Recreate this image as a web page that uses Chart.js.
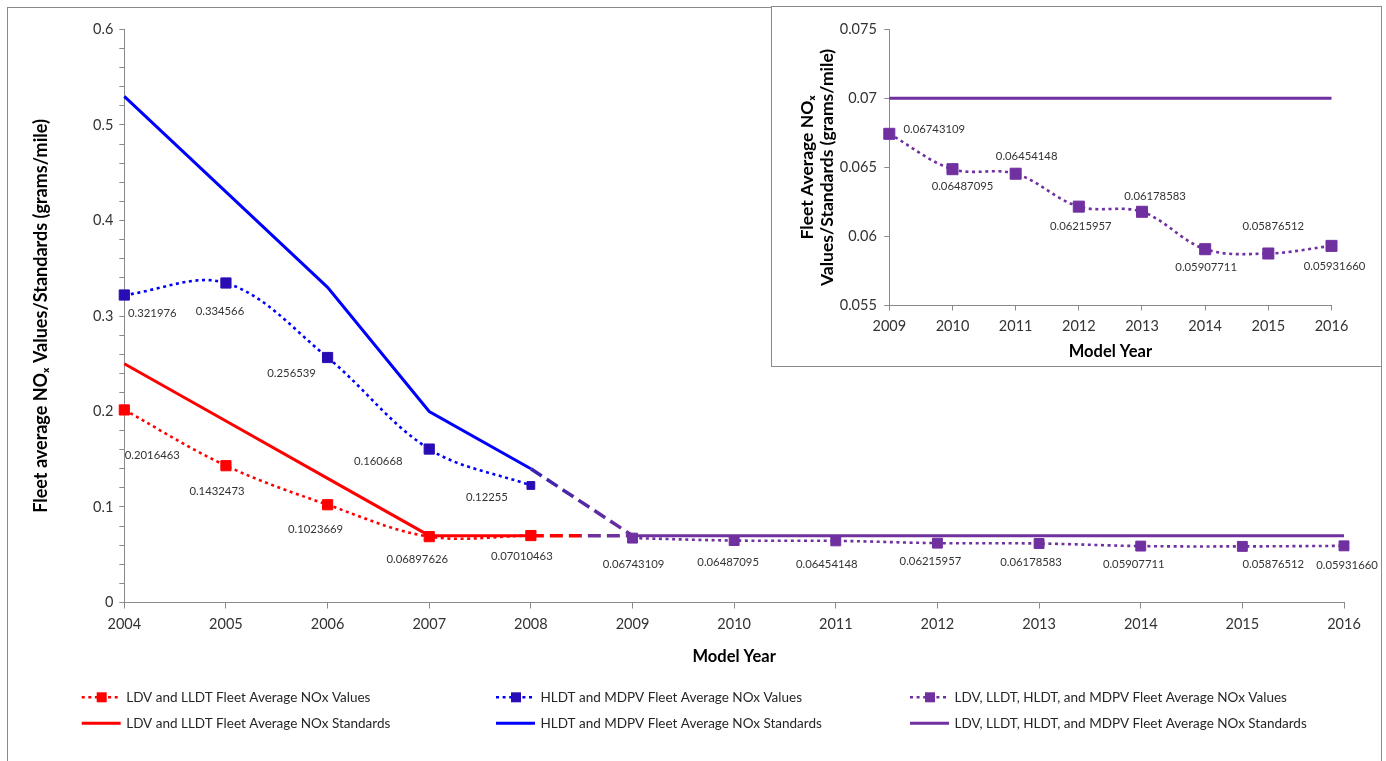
<!DOCTYPE html>
<html>
<head>
<meta charset="utf-8">
<script src="https://cdn.jsdelivr.net/npm/chart.js@4.4.1/dist/chart.umd.min.js"></script>
<style>
html,body{margin:0;padding:0;background:#fff;overflow:hidden;width:1386px;height:761px;}
#frame{position:absolute;left:7px;top:7px;width:1375px;height:780px;border:1px solid #8a8a8a;box-sizing:border-box;}
#main{position:absolute;left:0;top:0;}
#insetBox{position:absolute;left:771px;top:6px;width:611px;height:361px;border:1px solid #8a8a8a;box-sizing:border-box;background:#fff;}
#inset{position:absolute;left:0;top:0;}
</style>
</head>
<body>
<div id="frame"></div>
<canvas id="main" width="1386" height="761"></canvas>
<div id="insetBox"><canvas id="inset" width="609" height="359"></canvas></div>
<script>
// ---------------- data ----------------
const yearLabels = ['2004','2005','2006','2007','2008','2009','2010','2011','2012','2013','2014','2015','2016'];
const insetYearLabels = ['2009','2010','2011','2012','2013','2014','2015','2016'];

// 2004-2008
const ldvValues = [0.2016463, 0.1432473, 0.1023669, 0.06897626, 0.07010463];
const hldtValues = [0.321976, 0.334566, 0.256539, 0.160668, 0.12255];
const ldvStandards = [0.25, 0.19, 0.13, 0.07, 0.07];
const hldtStandards = [0.53, 0.43, 0.33, 0.20, 0.14];
// 2009-2016
const allValues = [0.06743109, 0.06487095, 0.06454148, 0.06215957, 0.06178583, 0.05907711, 0.05876512, 0.05931660];
const allStandards = [0.07, 0.07, 0.07, 0.07, 0.07, 0.07, 0.07, 0.07];

const mainYTicks = [0, 0.1, 0.2, 0.3, 0.4, 0.5, 0.6];
const insetYTicks = [0.055, 0.06, 0.065, 0.07, 0.075];

const seriesNames = [
  'LDV and LLDT Fleet Average NOx Values',
  'HLDT and MDPV Fleet Average NOx Values',
  'LDV, LLDT, HLDT, and MDPV Fleet Average NOx Values',
  'LDV and LLDT Fleet Average NOx Standards',
  'HLDT and MDPV Fleet Average NOx Standards',
  'LDV, LLDT, HLDT, and MDPV Fleet Average NOx Standards'
];

// label placement (offsets from the point, in px)
const ldvLabelOffsets = [[28,45],[-9,26],[-12,25],[-12,23],[-9,21]];
const hldtLabelOffsets = [[28,18],[-6,28],[-36,16],[-51,12],[-44,12]];
const allLabelOffsets = [[1,26],[-6,22],[-9,23],[-7,18],[-8,19],[-7,18],[31,18],[3,19]];
const insetLabelOffsets = [[45,-4],[10,17],[11,-17],[2,20],[13,-15],[1,18],[5,-27],[3,20]];

// ---------------- styles ----------------
const FONT = 'Lato, "Open Sans", "DejaVu Sans", sans-serif';
const RED = '#FF0000', BLUE = '#0000FF', INDIGO = '#2A0CB4', PURPLE = '#7030A0', AXIS = '#8a8a8a';
Chart.defaults.font.family = FONT;
Chart.defaults.color = '#333';

const N = yearLabels.length;
function place(arr, start) {
  const out = new Array(N).fill(null);
  arr.forEach((v, i) => { out[start + i] = v; });
  return out;
}
const ldvStdData = place(ldvStandards, 0); ldvStdData[5] = allStandards[0];
const hldtStdData = place(hldtStandards, 0); hldtStdData[5] = allStandards[0];

function connector(fromColor, sharp) {
  return {
    borderDash: c => c.p0DataIndex === 4 ? [13, 6] : undefined,
    borderWidth: c => c.p0DataIndex === 4 ? 3.5 : undefined,
    borderColor: c => {
      if (c.p0DataIndex !== 4) return undefined;
      const g = c.chart.ctx.createLinearGradient(c.p0.x, 0, c.p1.x, 0);
      if (sharp) { g.addColorStop(0, fromColor); g.addColorStop(0.46, fromColor); g.addColorStop(0.54, PURPLE); g.addColorStop(1, PURPLE); }
      else { g.addColorStop(0, '#3A22B0'); g.addColorStop(1, PURPLE); }
      return g;
    }
  };
}

const fmt7 = v => v.toPrecision(7);
const fmtS = v => String(v);

function valuesSet(label, data, line, marker, radius, offsets, fmt) {
  return {
    label, data, kind: 'values',
    borderColor: line, backgroundColor: marker, borderWidth: 2.6, borderDash: [3, 3.6],
    tension: 0.35, pointStyle: 'rect', pointRadius: radius, pointBorderWidth: 1,
    pointBackgroundColor: marker, pointBorderColor: marker, clip: false,
    labelOffsets: offsets, fmt
  };
}
function stdSet(label, data, color, segment) {
  return {
    label, data, kind: 'std', borderColor: color, backgroundColor: color, borderWidth: 3,
    tension: 0, pointRadius: 0, clip: false, segment
  };
}

const labelPlugin = {
  id: 'pointLabels',
  afterDatasetsDraw(chart) {
    const ctx = chart.ctx;
    ctx.save();
    ctx.font = '11.3px ' + FONT;
    ctx.fillStyle = '#333';
    ctx.textAlign = 'center';
    ctx.textBaseline = 'middle';
    chart.data.datasets.forEach((ds, di) => {
      if (!ds.labelOffsets) return;
      const meta = chart.getDatasetMeta(di);
      let k = 0;
      ds.data.forEach((v, i) => {
        if (v == null) return;
        const off = ds.labelOffsets[k++];
        const p = meta.data[i];
        ctx.fillText(ds.fmt(v), p.x + off[0], p.y + off[1]);
      });
    });
    ctx.restore();
  }
};

const gridLegend = {
  id: 'gridLegend',
  afterDraw(chart) {
    const o = chart.options.plugins.gridLegend;
    if (!o) return;
    const ctx = chart.ctx;
    chart.data.datasets.forEach((ds, i) => {
      const x = o.colX[i % 3], y = o.rowY[Math.floor(i / 3)];
      ctx.save();
      ctx.strokeStyle = ds.borderColor;
      ctx.lineWidth = ds.kind === 'values' ? 2.6 : 3;
      ctx.setLineDash(ds.kind === 'values' ? [3, 3.6] : []);
      ctx.beginPath(); ctx.moveTo(x, y); ctx.lineTo(x + 39, y); ctx.stroke();
      ctx.setLineDash([]);
      if (ds.kind === 'values') {
        ctx.fillStyle = ds.pointBackgroundColor;
        ctx.fillRect(x + 15, y - 5, 10, 10);
      }
      ctx.fillStyle = '#262626';
      ctx.font = '13.5px ' + FONT;
      ctx.textBaseline = 'middle';
      ctx.textAlign = 'left';
      ctx.fillText(ds.label, x + 44.5, y);
      ctx.restore();
    });
  }
};

const hldtRadius = place([7.2, 7.2, 7.2, 7.2, 5.5], 0);

new Chart(document.getElementById('main'), {
  type: 'line',
  data: {
    labels: yearLabels,
    datasets: [
      valuesSet(seriesNames[0], place(ldvValues, 0), RED, RED, 7.2, ldvLabelOffsets, fmt7),
      valuesSet(seriesNames[1], place(hldtValues, 0), BLUE, INDIGO, hldtRadius, hldtLabelOffsets, fmtS),
      valuesSet(seriesNames[2], place(allValues, 5), PURPLE, PURPLE, 7.0, allLabelOffsets, fmt7),
      stdSet(seriesNames[3], ldvStdData, RED, connector(RED, true)),
      stdSet(seriesNames[4], hldtStdData, BLUE, connector(BLUE, false)),
      stdSet(seriesNames[5], place(allStandards, 5), PURPLE)
    ]
  },
  options: {
    responsive: false, animation: false, events: [],
    layout: { padding: { left: 0, right: 42, top: 29.5, bottom: 88.5 } },
    plugins: {
      legend: { display: false }, tooltip: { enabled: false },
      gridLegend: { colX: [81.7, 496, 910], rowY: [697.3, 723.3] }
    },
    scales: {
      x: {
        type: 'category', offset: false,
        grid: { display: true, drawOnChartArea: false, drawTicks: true, tickLength: 6, color: AXIS },
        border: { color: AXIS, width: 1 },
        ticks: { padding: 7, font: { size: 14.5 }, color: '#333', autoSkip: false, maxRotation: 0 },
        title: { display: true, text: 'Model Year', color: '#000', font: { size: 16.5, weight: 'bold', lineHeight: 1.3 }, padding: { top: 0, bottom: 5 } },
        afterFit(s) { s.height = 70; }
      },
      y: {
        min: 0, max: 0.6,
        grid: { display: true, drawOnChartArea: false, drawTicks: true, tickLength: 5, color: AXIS },
        border: { color: AXIS, width: 1 },
        ticks: {
          stepSize: 0.02, autoSkip: false, padding: 6, font: { size: 14.5 }, color: '#333',
          callback: v => mainYTicks.some(t => Math.abs(t - v) < 1e-9) ? String(v) : ''
        },
        title: { display: true, text: 'Fleet average NOₓ Values/Standards (grams/mile)', color: '#000', font: { size: 18, weight: 'bold', lineHeight: 1.3 }, padding: { top: 29.3, bottom: 0 } },
        afterFit(s) { s.width = 124.3; }
      }
    }
  },
  plugins: [labelPlugin, gridLegend]
});

new Chart(document.getElementById('inset'), {
  type: 'line',
  data: {
    labels: insetYearLabels,
    datasets: [
      valuesSet(seriesNames[2], allValues, PURPLE, PURPLE, 7.8, insetLabelOffsets, fmt7),
      stdSet(seriesNames[5], allStandards, PURPLE)
    ]
  },
  options: {
    responsive: false, animation: false, events: [],
    layout: { padding: { left: 0, right: 49.5, top: 22.3, bottom: 0 } },
    plugins: { legend: { display: false }, tooltip: { enabled: false } },
    scales: {
      x: {
        type: 'category', offset: false,
        grid: { display: true, drawOnChartArea: false, drawTicks: true, tickLength: 5, color: AXIS },
        border: { color: AXIS, width: 1 },
        ticks: { padding: 7.5, font: { size: 14.5 }, color: '#333', autoSkip: false, maxRotation: 0 },
        title: { display: true, text: 'Model Year', color: '#000', font: { size: 16.5, weight: 'bold', lineHeight: 1.3 }, padding: { top: 0, bottom: 3.6 } },
        afterFit(s) { s.height = 60.5; }
      },
      y: {
        min: 0.055, max: 0.075,
        grid: { display: true, drawOnChartArea: false, drawTicks: true, tickLength: 5, color: AXIS },
        border: { color: AXIS, width: 1 },
        ticks: {
          stepSize: 0.005, autoSkip: false, padding: 7.5, font: { size: 14.5 }, color: '#333',
          callback: v => { const t = insetYTicks.find(t => Math.abs(t - v) < 1e-9); return t === undefined ? '' : String(t); }
        },
        title: { display: true, text: ['Fleet Average NOₓ', 'Values/Standards (grams/mile)'], color: '#000', font: { size: 17.5, weight: 'bold', lineHeight: 1.12 }, padding: { top: 25.7, bottom: 0 } },
        afterFit(s) { s.width = 117.3; }
      }
    }
  },
  plugins: [labelPlugin]
});
</script>
</body>
</html>
